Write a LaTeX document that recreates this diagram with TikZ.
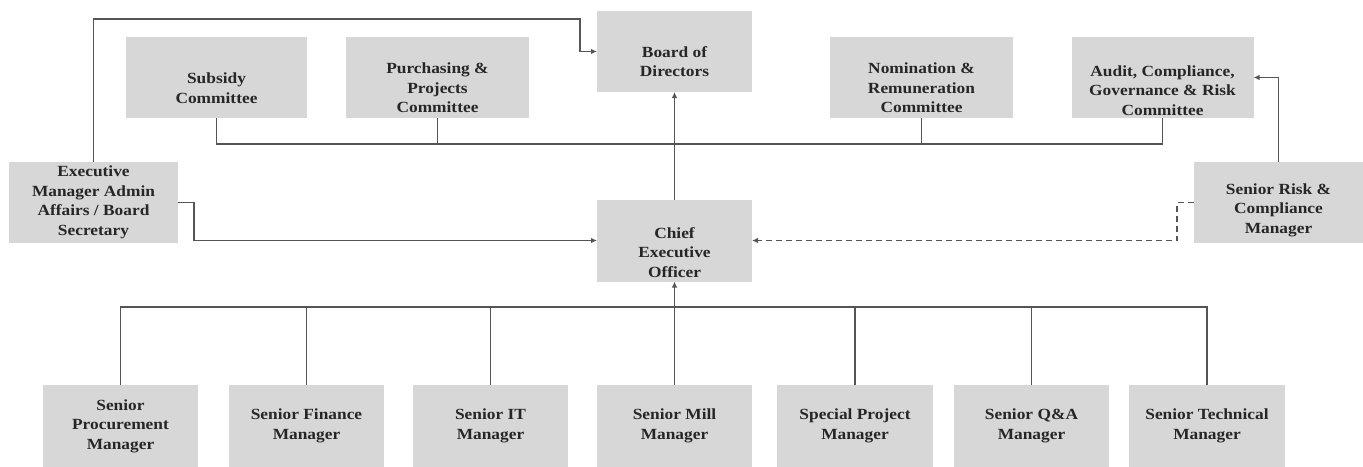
\documentclass[tikz,border=0pt]{standalone}
\usepackage{fontspec}
\setmainfont{Liberation Serif}[FakeStretch=1.12]
\usetikzlibrary{arrows.meta}
\definecolor{boxgray}{RGB}{215,215,215}
\definecolor{linegray}{RGB}{85,85,85}
\definecolor{txtgray}{RGB}{38,38,38}
\begin{document}
\begin{tikzpicture}[x=1pt,y=-1pt,
  box/.style={fill=boxgray,inner sep=0pt,outer sep=0pt,minimum height=81pt},
  txt/.style={font=\bfseries\fontsize{15.5}{19.5}\selectfont,text=txtgray,align=center,inner sep=0pt},
  conn/.style={draw=linegray,line width=1.2pt},
  arr/.style={conn,-{Latex[length=6pt,width=5.5pt]}},
  dashline/.style={dash pattern=on 6pt off 4pt}
]
\useasboundingbox (0,0) rectangle (1363,466);

% top row
\node[box,minimum width=155pt,label={[txt,yshift=-10pt]center:{Board of\\Directors}}] (board) at (674.5,51.5) {};
\node[box,minimum width=181pt,label={[txt,yshift=-10.5pt]center:{Subsidy\\Committee}}] (subsidy) at (216.5,77.5) {};
\node[box,minimum width=183pt,label={[txt,yshift=-10.5pt]center:{Purchasing \&\\Projects\\Committee}}] (purch) at (437.5,77.5) {};
\node[box,minimum width=183pt,label={[txt,yshift=-10.5pt]center:{Nomination \&\\Remuneration\\Committee}}] (nomin) at (921.5,77.5) {};
\node[box,minimum width=182pt,label={[txt,yshift=-13pt]center:{Audit, Compliance,\\Governance \& Risk\\Committee}}] (audit) at (1162.5,77.5) {};

% middle row
\node[box,minimum width=169pt,label={[txt]center:{Executive\\Manager Admin\\Affairs / Board\\Secretary}}] (exec) at (93.5,202.5) {};
\node[box,minimum width=155pt,minimum height=82pt,label={[txt,yshift=-12pt]center:{Chief\\Executive\\Officer}}] (ceo) at (674.5,240.5) {};
\node[box,minimum width=169pt,label={[txt,yshift=-7.5pt]center:{Senior Risk \&\\Compliance\\Manager}}] (risk) at (1278.5,202.5) {};

% bottom row
\node[box,minimum width=155pt,minimum height=82pt,label={[txt]center:{Senior\\Procurement\\Manager}}] (proc) at (120.5,426) {};
\node[box,minimum width=155pt,minimum height=82pt,label={[txt]center:{Senior Finance\\Manager}}] (fin) at (306.5,426) {};
\node[box,minimum width=155pt,minimum height=82pt,label={[txt]center:{Senior IT\\Manager}}] (it) at (490.5,426) {};
\node[box,minimum width=155pt,minimum height=82pt,label={[txt]center:{Senior Mill\\Manager}}] (mill) at (674.5,426) {};
\node[box,minimum width=156pt,minimum height=82pt,label={[txt]center:{Special Project\\Manager}}] (special) at (855,426) {};
\node[box,minimum width=155pt,minimum height=82pt,label={[txt]center:{Senior Q\&A\\Manager}}] (qa) at (1031.5,426) {};
\node[box,minimum width=156pt,minimum height=82pt,label={[txt]center:{Senior Technical\\Manager}}] (tech) at (1207,426) {};

% helper coordinates
\coordinate (e1) at (93.5,19);
\coordinate (e2) at (580,19);
\coordinate (e3) at (194,202.5);
\coordinate (r1) at (1177,202.5);
\coordinate (cb) at (0,144);
\coordinate (bb) at (0,307);

% committee bus
\draw[conn] (subsidy.south) -- (subsidy.south |- cb) -- (audit.south |- cb) -- (audit.south);
\draw[conn] (purch.south) -- (purch.south |- cb);
\draw[conn] (nomin.south) -- (nomin.south |- cb);

% manager bus
\draw[conn] (proc.north) -- (proc.north |- bb) -- (tech.north |- bb) -- (tech.north);
\draw[conn] (fin.north) -- (fin.north |- bb);
\draw[conn] (it.north) -- (it.north |- bb);
\draw[conn] (special.north) -- (special.north |- bb);
\draw[conn] (qa.north) -- (qa.north |- bb);

% arrows
\draw[arr] (exec.north) -- (e1) -- (e2) |- (board.west);
\draw[arr] (exec.east) -- (e3) |- (ceo.west);
\draw[arr] (ceo.north) -- (board.south);
\draw[arr] (mill.north) -- (ceo.south);
\draw[arr] (risk.north) |- (audit.east);
\draw[arr,dashline] (risk.west) -- (r1) |- (ceo.east);
\end{tikzpicture}
\end{document}
